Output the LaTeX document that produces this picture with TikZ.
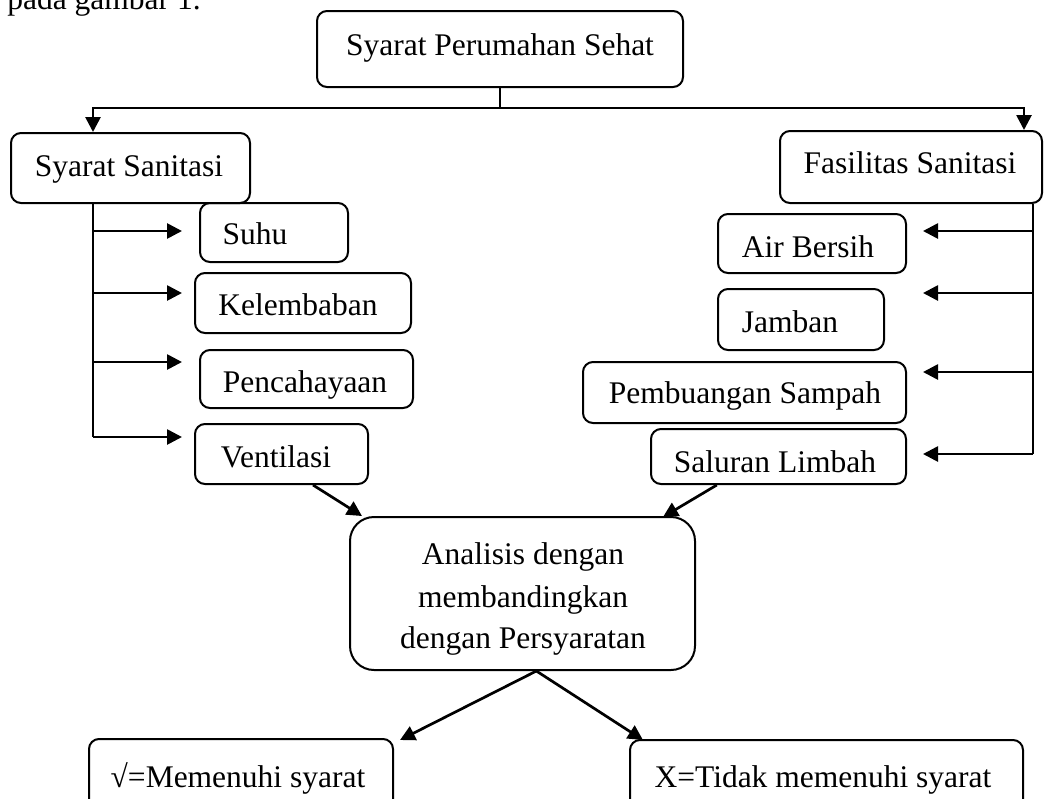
\documentclass[tikz,border=0pt]{standalone}
\usepackage{fontspec}
\setmainfont{Liberation Serif}
\usetikzlibrary{arrows.meta,fit,calc}
\begin{document}
\begin{tikzpicture}[x=0.5pt,y=-0.5pt,
  box/.style={draw,line width=1pt,rounded corners=5pt,inner sep=0pt},
  txt/.style={inner sep=0pt,anchor=base,font=\fontsize{15.75}{21}\selectfont},
  conn/.style={line width=1.35pt},
  arr/.style={conn,-{Triangle[length=7.5pt,width=7.5pt]}}]
\clip (0,0) rectangle (1044,798);
% partial text at top
\node[txt,anchor=base west] (pre) at (7,9) {pada gambar 1.};
% boxes
\node[box,fit={(317,11) (683,87)}] (top) {};
\node[txt] (topt) at (500,55) {Syarat Perumahan Sehat};
\node[box,fit={(11,133) (250,203)}] (ss) {};
\node[txt] (sst) at (129,176) {Syarat Sanitasi};
\node[box,fit={(780,131) (1042,203)}] (fs) {};
\node[txt] (fst) at (910,173) {Fasilitas Sanitasi};
\node[box,fit={(200,203) (348,262)}] (suhu) {};
\node[txt] (suhut) at (255,244) {Suhu};
\node[box,fit={(195,273) (411,333)}] (kel) {};
\node[txt] (kelt) at (298,315) {Kelembaban};
\node[box,fit={(200,350) (413,408)}] (pen) {};
\node[txt] (pent) at (305,392) {Pencahayaan};
\node[box,fit={(195,424) (368,484)}] (vent) {};
\node[txt] (ventt) at (276,467) {Ventilasi};
\node[box,fit={(718,214) (906,273)}] (air) {};
\node[txt] (airt) at (808,257) {Air Bersih};
\node[box,fit={(718,289) (884,350)}] (jam) {};
\node[txt] (jamt) at (790,332) {Jamban};
\node[box,fit={(583,362) (906,423)}] (pem) {};
\node[txt] (pemt) at (745,403) {Pembuangan Sampah};
\node[box,fit={(651,429) (906,484)}] (sal) {};
\node[txt] (salt) at (775,472) {Saluran Limbah};
\node[box,rounded corners=12pt,fit={(350,517) (695,670)}] (ana) {};
\node[txt] (ana1) at (523,564) {Analisis dengan};
\node[txt] (ana2) at (523,607) {membandingkan};
\node[txt] (ana3) at (523,648) {dengan Persyaratan};
\node[box,fit={(89,739) (393,815)}] (yes) {};
\node[txt] (yest) at (238,787) {√=Memenuhi syarat};
\node[box,fit={(630,740) (1023,815)}] (no) {};
\node[txt] (not) at (823,787) {X=Tidak memenuhi syarat};
% top connectors
\coordinate (hl) at (93,108);
\coordinate (hr) at (1024,108);
\draw[conn] (top.south) -- (top.south |- hl);
\draw[arr] (top.south |- hl) -| (hl |- ss.north);
\draw[arr] (top.south |- hr) -| (hr |- fs.north);
% left tree
\coordinate (l1) at (93,231); \coordinate (le1) at (182,231);
\coordinate (l2) at (93,293); \coordinate (le2) at (182,293);
\coordinate (l3) at (93,362); \coordinate (le3) at (182,362);
\coordinate (l4) at (93,437); \coordinate (le4) at (182,437);
\draw[conn] (hl |- ss.south) -- (l4);
\draw[arr] (l1) -- (le1);
\draw[arr] (l2) -- (le2);
\draw[arr] (l3) -- (le3);
\draw[arr] (l4) -- (le4);
% right tree
\coordinate (r1) at (1033,231); \coordinate (re1) at (923,231);
\coordinate (r2) at (1033,293); \coordinate (re2) at (923,293);
\coordinate (r3) at (1033,372); \coordinate (re3) at (923,372);
\coordinate (r4) at (1033,454); \coordinate (re4) at (923,454);
\draw[conn] (r1 |- fs.south) -- (r4);
\draw[arr] (r1) -- (re1);
\draw[arr] (r2) -- (re2);
\draw[arr] (r3) -- (re3);
\draw[arr] (r4) -- (re4);
% diagonals
\coordinate (a1) at (362,516);
\coordinate (a2) at (663,517);
\coordinate (b1) at (400,740);
\coordinate (b2) at (643,740);
\draw[arr] ($(vent.south west)!0.68!(vent.south east)$) -- (a1);
\draw[arr] ($(sal.south west)!0.26!(sal.south east)$) -- (a2);
\draw[arr] ($(ana.south west)!0.54!(ana.south east)$) -- (b1);
\draw[arr] ($(ana.south west)!0.54!(ana.south east)$) -- (b2);
\end{tikzpicture}
\end{document}
